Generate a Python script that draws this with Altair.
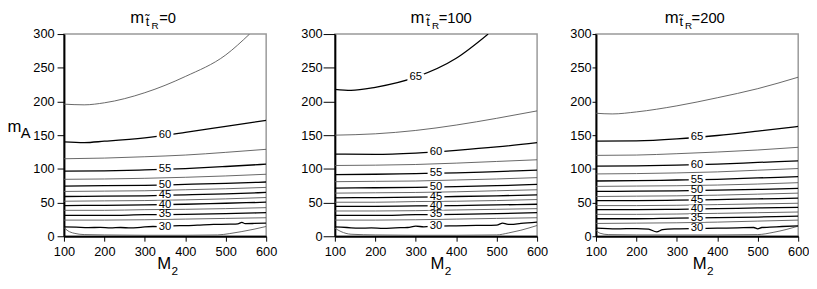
import altair as alt
import numpy as np
import pandas as pd

FONT = "Liberation Sans"
M2_GRID = [100, 200, 300, 400, 500, 600]
X_TICKS = [100, 200, 300, 400, 500, 600]
Y_TICKS = [0, 50, 100, 150, 200, 250, 300]
PANEL_VALUES = ["0", "100", "200"]

# Panel 1 (m_tR = 0): contour level -> (M2 points, mA points)
P1 = {
    62.5: ([100, 150, 200, 300, 400, 500, 559], [196, 195, 198, 213, 237, 269, 300]),
    60.0: ([100, 150, 200, 300, 400, 500, 600], [140, 139, 141, 146, 154, 163, 172]),
    57.5: (M2_GRID, [115, 116, 118, 120.5, 124.5, 129]),
    55.0: (M2_GRID, [96.5, 97, 98.5, 100.5, 103.5, 107]),
    52.5: (M2_GRID, [84.5, 85, 86, 87.5, 89.5, 92]),
    50.0: (M2_GRID, [74.5, 75, 75.5, 77, 78.5, 80.5]),
    47.5: (M2_GRID, [66.5, 67, 67.5, 69, 70.5, 72.5]),
    45.0: (M2_GRID, [59, 59.5, 60, 61.5, 63, 65]),
    42.5: (M2_GRID, [52, 52.5, 53, 54, 55.5, 57.5]),
    40.0: (M2_GRID, [45.5, 46, 46.5, 47.5, 49, 50.5]),
    37.5: (M2_GRID, [38.5, 38.5, 39.5, 40, 41, 42.5]),
    35.0: (M2_GRID, [31, 31, 32, 32.5, 33.5, 35]),
    32.5: (M2_GRID, [24, 24, 24.5, 25.5, 26.5, 27.5]),
    30.0: ([100, 130, 160, 190, 215, 240, 265, 290, 320, 345, 370, 400, 430, 470, 510, 530, 540, 548, 570, 600],
           [14, 13.5, 12.8, 13.2, 12.5, 13, 12.3, 13.3, 14.5, 14, 15.5, 15.8, 16.5, 17.5, 18, 18.5, 20.5, 18.8, 19, 19.5]),
    27.5: ([100, 110, 125, 150, 200, 300, 400, 480, 510, 540, 570, 600],
           [13, 8, 4.5, 2.5, 2, 1.5, 1.5, 2, 4, 7, 10.5, 14.5]),
}
P1_LABELS = [30, 35, 40, 45, 50, 55, 60]
P1_LABEL_X = [350, 350, 350, 350, 350, 350, 350]

# Panel 2 (m_tR = 100)
P2 = {
    65.0: ([100, 140, 200, 300, 400, 479], [218, 216.5, 221, 236, 264, 300]),
    62.5: (M2_GRID, [150, 152, 157, 165, 175, 186]),
    60.0: (M2_GRID, [122, 121.5, 123.5, 127.5, 132.5, 139]),
    57.5: (M2_GRID, [105, 105.5, 106.5, 108.5, 111, 113.5]),
    55.0: (M2_GRID, [91.5, 92, 93, 94, 96, 98]),
    52.5: (M2_GRID, [81, 81.5, 82, 83.5, 85, 87]),
    50.0: (M2_GRID, [71.5, 72, 72.5, 73.5, 75, 77]),
    47.5: (M2_GRID, [64, 64.5, 65, 66, 67.5, 69]),
    45.0: (M2_GRID, [57, 57.5, 58, 59, 60, 61.5]),
    42.5: (M2_GRID, [50.5, 50.5, 51.5, 52, 53, 54.5]),
    40.0: (M2_GRID, [44.5, 44.5, 45, 45.5, 46.5, 47.5]),
    37.5: (M2_GRID, [37.5, 37.5, 38, 39, 40, 41]),
    35.0: (M2_GRID, [31, 31, 32, 32.5, 33.5, 35]),
    32.5: (M2_GRID, [24, 24, 24.5, 25.5, 26.5, 27.5]),
    30.0: ([100, 130, 160, 190, 220, 250, 280, 300, 320, 350, 400, 450, 500, 515, 525, 535, 560, 600],
           [14, 13, 12, 12.5, 11.8, 12.5, 13, 15, 14, 15, 15.5, 16, 16.5, 19.5, 18, 17.5, 19, 21]),
    27.5: ([100, 115, 140, 200, 300, 400, 500, 530, 560, 600],
           [12, 7, 3, 2, 1.5, 1.5, 2, 5, 9, 16]),
}
P2_LABELS = [30, 35, 40, 45, 50, 55, 60, 65]
P2_LABEL_X = [350, 350, 350, 350, 350, 350, 350, 300]

# Panel 3 (m_tR = 200)
P3 = {
    67.5: ([100, 140, 200, 300, 400, 500, 600], [182.5, 181.5, 184.5, 193.5, 205.5, 219, 236]),
    65.0: (M2_GRID, [141, 141.5, 144.5, 149.5, 156, 163]),
    62.5: (M2_GRID, [120, 120.5, 122.5, 125, 128, 132]),
    60.0: (M2_GRID, [104, 104.5, 105.5, 107, 109.5, 112]),
    57.5: (M2_GRID, [92.5, 93, 94, 95.5, 98, 100.5]),
    55.0: (M2_GRID, [82, 82.5, 83.5, 84.5, 86.5, 88.5]),
    52.5: (M2_GRID, [74, 74.5, 75, 76, 77.5, 79.5]),
    50.0: (M2_GRID, [66.5, 67, 67.5, 68.5, 69.5, 71]),
    47.5: (M2_GRID, [59, 59.5, 60, 61, 62.5, 64]),
    45.0: (M2_GRID, [53, 53, 53.5, 54.5, 55.5, 56.5]),
    42.5: (M2_GRID, [45.5, 45.5, 46, 47, 48, 49]),
    40.0: (M2_GRID, [39.5, 39.5, 40, 41, 42, 43]),
    37.5: (M2_GRID, [32.5, 32.5, 33, 34, 35, 36]),
    35.0: (M2_GRID, [26, 26, 27, 27.5, 28.5, 30]),
    32.5: (M2_GRID, [19, 19.5, 20, 21, 22.5, 24]),
    30.0: ([100, 150, 200, 230, 250, 265, 300, 350, 400, 450, 490, 500, 510, 530, 560, 600],
           [12, 11, 11.5, 10.5, 6.5, 10, 11, 11.5, 12, 12.5, 13, 11, 13, 13.5, 14.5, 15.5]),
    27.5: ([100, 110, 130, 200, 300, 400, 500, 540, 570, 600],
           [9, 4.5, 2.5, 2, 2, 2, 2.5, 6, 10, 15]),
}
P3_LABELS = [30, 35, 40, 45, 50, 55, 60, 65]
P3_LABEL_X = [350, 350, 350, 350, 350, 350, 350, 350]

W = 206
H = 206
BOX = "M -1 -0.45 L 1 -0.45 L 1 0.45 L -1 0.45 Z"


def curves_df(curves):
    rows = []
    for lev, (xs, ys) in curves.items():
        major = 1 if lev % 5 == 0 else 0
        for k, (xv, yv) in enumerate(zip(xs, ys)):
            rows.append({"level": lev, "M2": xv, "mA": yv, "k": k, "major": major})
    return pd.DataFrame(rows)


def piece(s, px, py, size):
    return alt.Chart(pd.DataFrame({"s": [s]})).mark_text(
        font=FONT, fontSize=size, align="left", baseline="alphabetic", color="black"
    ).encode(text="s:N", x=alt.value(px), y=alt.value(py))


def panel(curves, labels, label_x, val, ytick, ypad, tx, mx, show_ma):
    df = curves_df(curves)
    lab = pd.DataFrame({
        "M2": label_x,
        "mA": [float(np.interp(lx, curves[float(l)][0], curves[float(l)][1])) for l, lx in zip(labels, label_x)],
        "label": [str(l) for l in labels],
    })
    x = alt.X("M2:Q", scale=alt.Scale(domain=[100, 600], nice=False, zero=False, padding=0),
              axis=alt.Axis(values=X_TICKS, title=None, tickSize=5, labelPadding=5, labelFlush=False))
    y = alt.Y("mA:Q", scale=alt.Scale(domain=[0, 300], nice=False, padding=0),
              axis=alt.Axis(values=Y_TICKS, title=None, tickSize=ytick, labelPadding=ypad, labelFlush=False))
    minor = alt.Chart(df).transform_filter("datum.major == 0").mark_line(
        color="#555", strokeWidth=0.9, clip=True, interpolate="monotone"
    ).encode(x=x, y=y, detail="level:N", order="k:Q")
    major = alt.Chart(df).transform_filter("datum.major == 1").mark_line(
        color="black", strokeWidth=1.3, clip=True, interpolate="monotone"
    ).encode(x=x, y=y, detail="level:N", order="k:Q")
    box = alt.Chart(lab).mark_point(
        shape=BOX, filled=True, color="white", fill="white", opacity=1, size=290, strokeWidth=0
    ).encode(x=x, y=y)
    txt = alt.Chart(lab).mark_text(font=FONT, fontSize=11.5, color="black", baseline="middle").encode(
        x=x, y=y, text="label:N")
    layers = [minor, major, box, txt,
              piece("m", tx[0], -11.3, 17),
              piece("t\u0303", tx[1], -8.7, 13),
              piece("R", tx[2], -5.5, 10),
              piece("=" + val, tx[3], -11.3, 15),
              piece("M", mx, H + 33.5, 17),
              piece("2", mx + 14.5, H + 39, 12)]
    if show_ma:
        layers += [piece("m", -57.4, 99.7, 17), piece("A", -44, 106.3, 15)]
    return alt.layer(*layers).properties(width=W, height=H)


p1 = panel(P1, P1_LABELS, P1_LABEL_X, PANEL_VALUES[0], 7, 3, [67.6, 83.3, 89.3, 97], 95, True)
p2 = panel(P2, P2_LABELS, P2_LABEL_X, PANEL_VALUES[1], 12, 1, [77, 93, 99, 105.7], 97.5, False)
p3 = panel(P3, P3_LABELS, P3_LABEL_X, PANEL_VALUES[2], 4, 1, [70, 85, 90.7, 97.4], 98.5, False)

chart = alt.hconcat(alt.hconcat(p1, p2, spacing=22), p3, spacing=20).properties(
    padding={"left": -2, "top": -3, "right": -1, "bottom": 0}
).configure_view(
    stroke="#999", strokeWidth=1.5
).configure_axis(
    domainColor="black", domainWidth=2, tickColor="black", tickWidth=1,
    labelColor="black", labelFont=FONT, labelFontSize=13, grid=False
)

chart.save("out.html", embed_options={"renderer": "svg", "actions": False})
